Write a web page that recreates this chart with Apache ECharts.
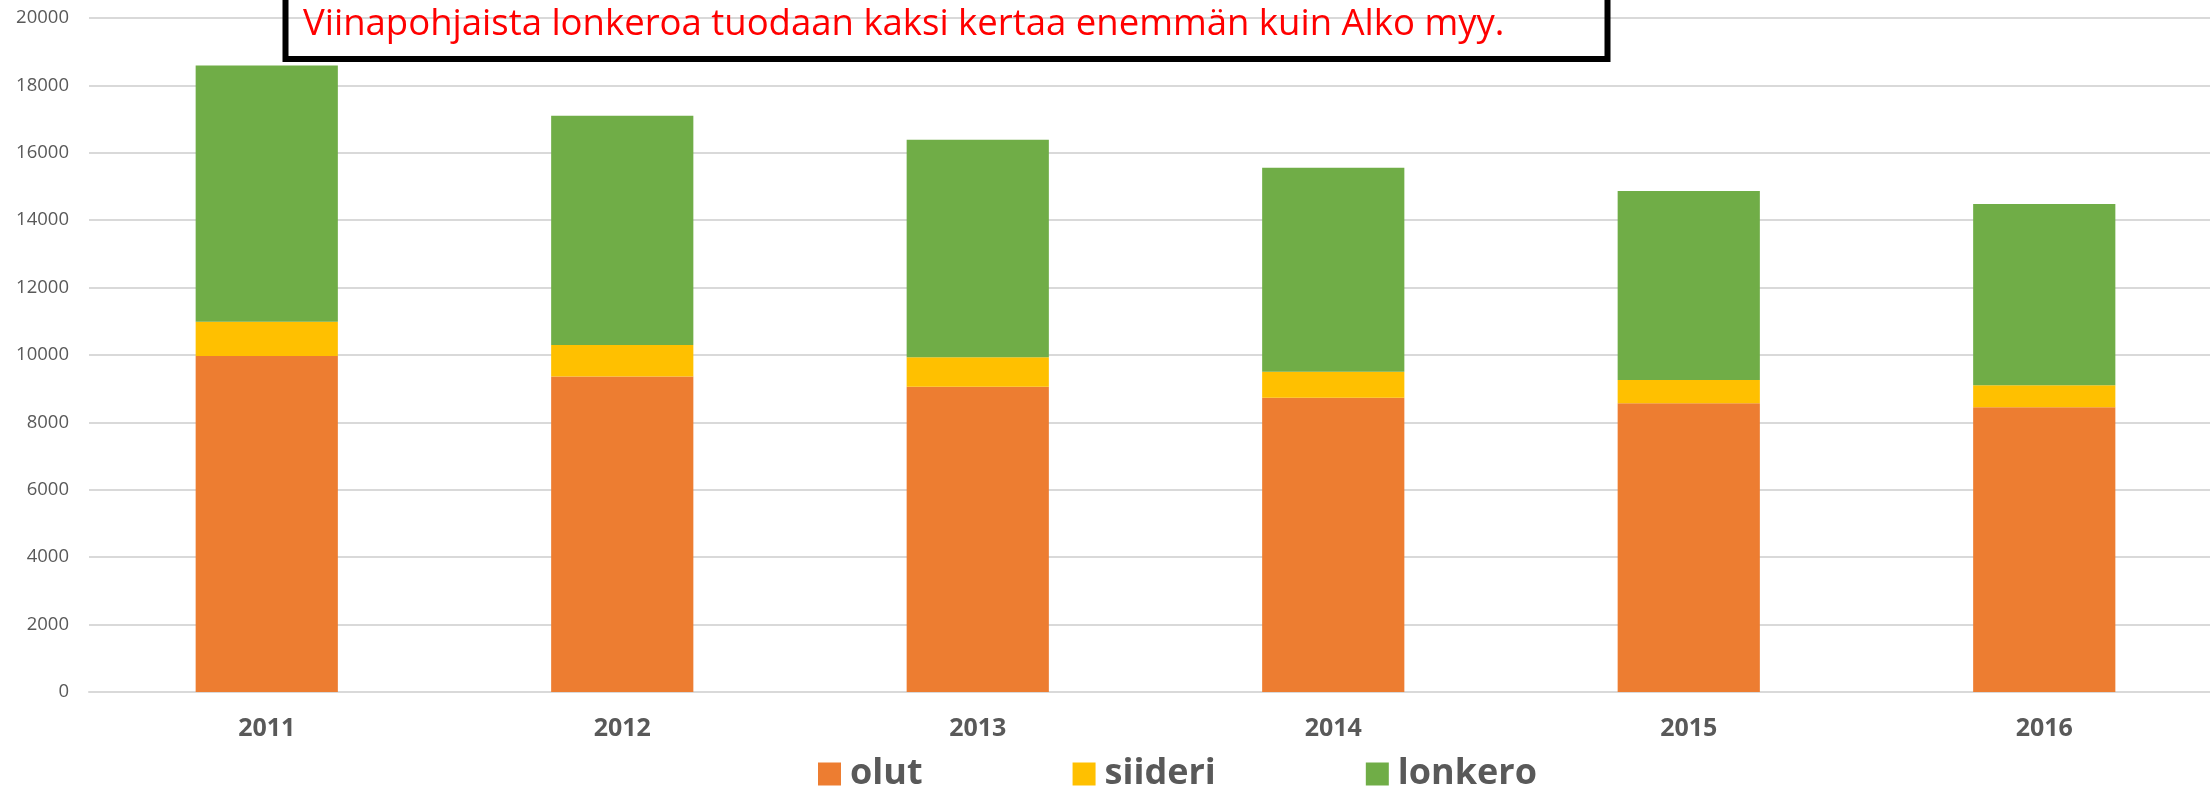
<!DOCTYPE html>
<html>
<head>
<meta charset="utf-8">
<script src="https://cdn.jsdelivr.net/npm/echarts@6/dist/echarts.min.js"></script>
<style>
  html, body { margin: 0; padding: 0; background: #fff; }
  #chart { width: 2210px; height: 790px; }
</style>
</head>
<body>
<div id="chart"></div>
<script>
// data
const years = ['2011', '2012', '2013', '2014', '2015', '2016'];
const olut = [9970, 9360, 9060, 8730, 8570, 8450];
const siideri = [1020, 940, 870, 770, 690, 650];
const lonkero = [7600, 6800, 6460, 6060, 5610, 5380];
const yTicks = [0, 2000, 4000, 6000, 8000, 10000, 12000, 14000, 16000, 18000, 20000];
const note = 'Viinapohjaista lonkeroa tuodaan kaksi kertaa enemmän kuin Alko myy.';

const chart = echarts.init(document.getElementById('chart'));

const font = '"Open Sans", "Liberation Sans", sans-serif';
const grey = '#595959';

function barSeries(name, data, color) {
    return {
        name: name,
        type: 'bar',
        stack: 'total',
        data: data,
        barWidth: '40%',
        itemStyle: { color: color },
        emphasis: { disabled: true }
    };
}

chart.setOption({
    animation: false,
    textStyle: { fontFamily: font },
    // plot area runs a little past the right edge, as in the original
    grid: { left: 89, top: 18, width: 2133, height: 674, containLabel: false, outerBoundsMode: 'none' },
    xAxis: {
        type: 'category',
        data: years,
        axisLine: { lineStyle: { color: '#D9D9D9', width: 2 } },
        axisTick: { show: false },
        axisLabel: { color: grey, fontSize: 25, fontWeight: 'bold', margin: 24, fontFamily: font }
    },
    yAxis: {
        type: 'value',
        min: yTicks[0],
        max: yTicks[yTicks.length - 1],
        interval: 2000,
        axisLine: { show: false },
        axisTick: { show: false },
        splitLine: { lineStyle: { color: '#D9D9D9', width: 2 } },
        axisLabel: {
            color: grey, fontSize: 18.5, margin: 20, fontFamily: font,
            formatter: function (v) { return String(v); }
        }
    },
    legend: {
        left: 813,
        top: 751,
        itemWidth: 23,
        itemHeight: 23,
        itemGap: 150,
        icon: 'rect',
        textStyle: { color: grey, fontSize: 36, fontWeight: 'bold', fontFamily: font, padding: [0, 0, 0, 4] },
        data: ['olut', 'siideri', 'lonkero']
    },
    series: [
        barSeries('olut', olut, '#ED7D31'),
        barSeries('siideri', siideri, '#FFC000'),
        barSeries('lonkero', lonkero, '#70AD47')
    ],
    graphic: [
        {
            type: 'rect',
            z: 10,
            shape: { x: 285.5, y: -20, width: 1322, height: 79 },
            style: { fill: 'none', stroke: '#000', lineWidth: 6 }
        },
        {
            type: 'text',
            z: 11,
            style: {
                text: note,
                x: 303,
                y: 25,
                verticalAlign: 'middle',
                fill: '#FF0000',
                font: '36.5px "Open Sans", sans-serif'
            }
        }
    ]
});

window.addEventListener('resize', function () {
    chart.resize();
});
</script>
</body>
</html>
